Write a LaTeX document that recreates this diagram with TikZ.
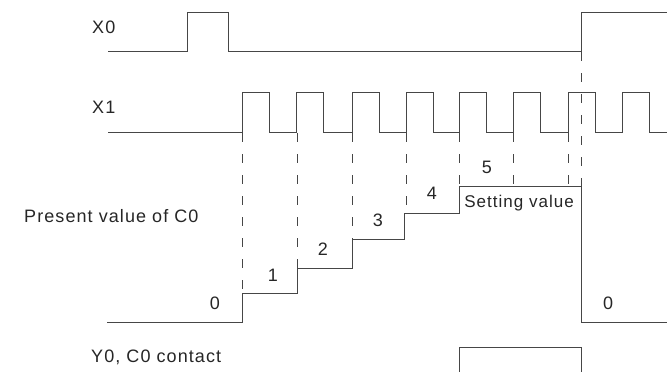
\documentclass[tikz,border=0pt]{standalone}
\usepackage{fontspec}
\setmainfont{Liberation Sans}[LetterSpace=6]
\usepackage{tikz}
\usetikzlibrary{positioning}
\definecolor{waveline}{HTML}{464646}
\definecolor{labeltext}{HTML}{262626}

\begin{document}
\begin{tikzpicture}[x=1pt, y=-1pt,
    wave/.style={draw=waveline, line width=1pt},
    guide/.style={draw=waveline, line width=0.9pt, dash pattern=on 9pt off 12pt},
    sig/.style={anchor=west, inner sep=0pt, text=labeltext, font=\fontsize{18}{20}\selectfont},
    val/.style={inner sep=0pt, text=labeltext, font=\fontsize{18}{20}\selectfont}]
    \useasboundingbox (0,0) rectangle (667,372);

    % signal names
    \node[sig] (x0lbl) at (92,27) {X0};
    \node[sig] (x1lbl) at (92,107) {X1};
    \node[sig] (pvlbl) at (24,216) {Present value of C0};
    \node[sig] (y0lbl) at (91,357) {Y0, C0 contact};

    % X0 and X1
    \draw[wave] (108,51) -- (187,51) -- (187,12) -- (228,12) -- (228,51) -- (581,51) -- (581,12) -- (667,12);
    \draw[wave] (108,132) \foreach \r in {242,296,352,406,459,513,568,622} {
        -- (\r,132) -- (\r,92) -- (\r+27,92) -- (\r+27,132) } -- (667,132);

    % counter steps
    \draw[wave] (107,322) -- (242,322) -- (242,293) -- (297,293) -- (297,268) -- (352,268) -- (352,239)
        -- (404,239) -- (404,213) -- (459,213) -- (459,186) -- (581,186) -- (581,322) -- (667,322);
    \foreach \x/\y in {242/293, 297/268, 352/239, 406/213, 459/186, 513/186, 568/186}
        \draw[guide] (\x,133) -- (\x,\y);
    \draw[guide] (581,52) -- (581,186);

    \node[val] (cnt0) at (215,303) {0};
    \node[val] (cnt1) at (273,275) {1};
    \node[val] (cnt2) at (323,249) {2};
    \node[val] (cnt3) at (378,220) {3};
    \node[val] (cnt4) at (432,193) {4};
    \node[val] (cnt5) at (487,167) {5};
    \node[val, font=\fontsize{17}{19}\selectfont] (setv) at (519,203) {Setting value};
    \node[val] (rst0) at (608,303) {0};

    % output contact
    \draw[wave] (459,372) -- (459,347) -- (581,347) -- (581,372);
\end{tikzpicture}
\end{document}
